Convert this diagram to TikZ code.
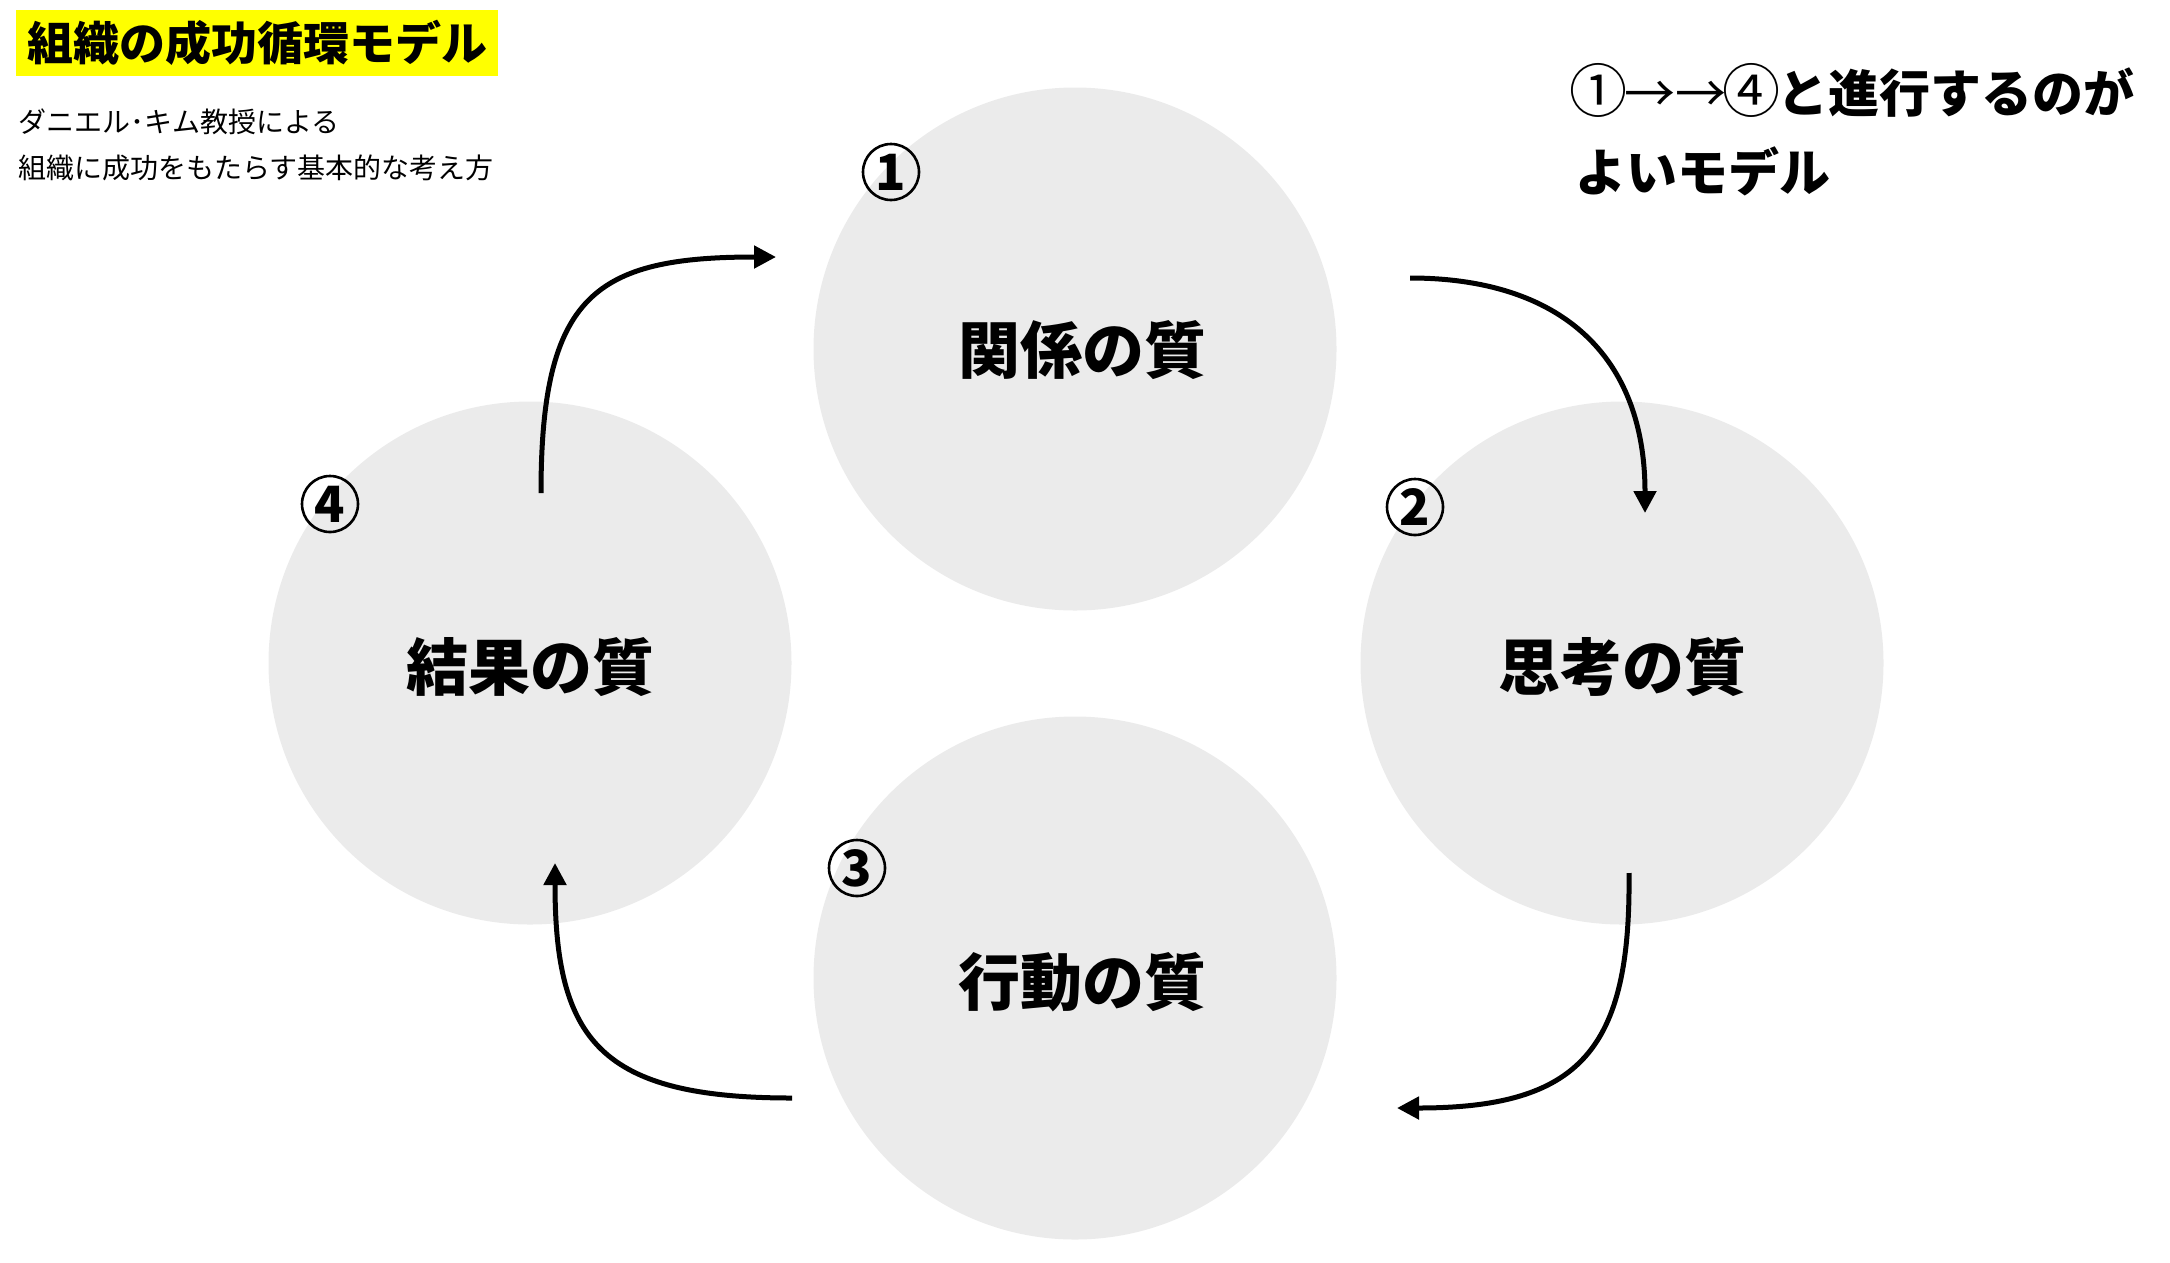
\documentclass[tikz,border=0pt]{standalone}
\usepackage{fontspec}
\newfontfamily\jp{Noto Sans CJK JP}
\usetikzlibrary{arrows.meta}
\definecolor{circgray}{HTML}{EBEBEB}
\definecolor{hiyellow}{HTML}{FFFF00}
\newcommand\fwchar[1]{\makebox[51pt]{\mdseries #1}}
\newcommand\fwnum[1]{\makebox[51pt]{\mdseries\fontsize{58}{58}\selectfont #1}}
\tikzset{
  bigcirc/.style={circle, fill=circgray, minimum size=523pt, inner sep=0pt},
  qlabel/.style={font=\jp\bfseries\fontsize{62}{70}\selectfont, inner sep=0pt},
  numbadge/.style={circle, draw=black, line width=2.6pt, minimum size=56pt, inner sep=0pt, font=\jp\bfseries\fontsize{50}{50}\selectfont},
  flow/.style={line width=5pt, -{Triangle[length=22pt,width=22pt]}},
  subtxt/.style={font=\jp\fontsize{28}{32}\selectfont, anchor=west, inner sep=0pt},
  notetxt/.style={font=\jp\bfseries\fontsize{51}{56}\selectfont, anchor=west, inner sep=0pt}
}
\begin{document}
\begin{tikzpicture}[x=1pt,y=-1pt]
\useasboundingbox (0,0) rectangle (2170,1262);
% circles
\node[bigcirc] (c1) at (1075,349) {};
\node[bigcirc] (c2) at (1622,663) {};
\node[bigcirc] (c3) at (1075,978) {};
\node[bigcirc] (c4) at (530,663) {};
% labels
\node[qlabel] (l1) at (1082,350) {関係の質};
\node[qlabel] (l2) at (1622,667) {思考の質};
\node[qlabel] (l3) at (1082,982) {行動の質};
\node[qlabel] (l4) at (530,667) {結果の質};
% numbers
\node[numbadge] (n1) at (891,172) {1};
\node[numbadge] (n2) at (1415,507) {2};
\node[numbadge] (n3) at (857,868) {3};
\node[numbadge] (n4) at (330,504) {4};
% arrow ends
\coordinate (a1s) at (541,493);
\coordinate (a1e) at (776,257);
\coordinate (a2s) at (1410,278);
\coordinate (a2e) at (1645,513);
\coordinate (a3s) at (1629,873);
\coordinate (a3e) at (1397,1108);
\coordinate (a4s) at (792,1098);
\coordinate (a4e) at (555,863);
\draw[flow] (a1s) .. controls (541,295) and (595,257) .. (a1e);
\draw[flow] (a2s) .. controls (1560,278) and (1645,355) .. (a2e);
\draw[flow] (a3s) .. controls (1631,1050) and (1580,1108) .. (a3e);
\draw[flow] (a4s) .. controls (600,1098) and (555,1040) .. (a4e);
% title
\node[fill=hiyellow, anchor=west, minimum height=66pt, inner xsep=11pt, inner ysep=0pt,
      font=\jp\bfseries\fontsize{46}{50}\selectfont] (title) at (16,43) {組織の成功循環モデル};
\node[subtxt] (s1) at (18,122) {ダニエル･キム教授による};
\node[subtxt] (s2) at (18,168) {組織に成功をもたらす基本的な考え方};
% note
\node[notetxt] (r1) at (1573,90) {\fwnum{①}\fwchar{→}\fwchar{→}\fwnum{④}と進行するのが};
\node[notetxt] (r2) at (1575,171) {よいモデル};
\end{tikzpicture}
\end{document}
